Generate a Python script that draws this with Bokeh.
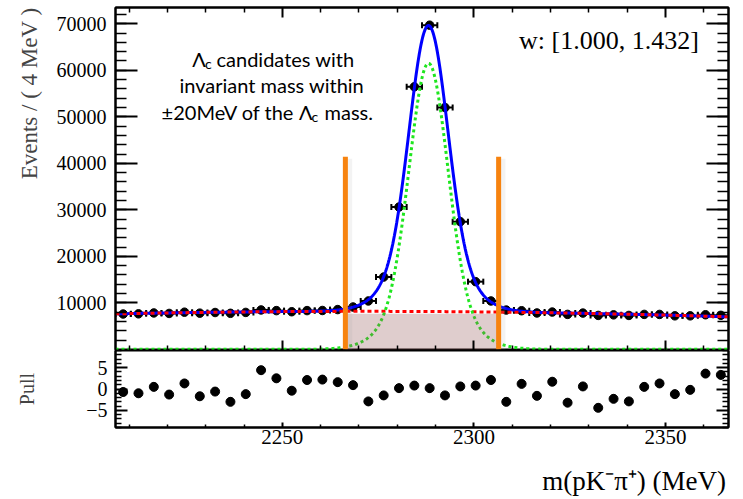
import numpy as np
from bokeh.plotting import figure
from bokeh.layouts import column
from bokeh.models import (Range1d, LinearAxis, FixedTicker, Title, Label,
                          ColumnDataSource, CustomJSTickFormatter)
from bokeh.embed import file_html
from bokeh.resources import INLINE

# ---------------- data ----------------
mass_bins = [2208.46, 2212.46, 2216.46, 2220.46, 2224.46, 2228.46, 2232.46, 2236.46,
             2240.46, 2244.46, 2248.46, 2252.46, 2256.46, 2260.46, 2264.46, 2268.46,
             2272.46, 2276.46, 2280.46, 2284.46, 2288.46, 2292.46, 2296.46, 2300.46,
             2304.46, 2308.46, 2312.46, 2316.46, 2320.46, 2324.46, 2328.46, 2332.46,
             2336.46, 2340.46, 2344.46, 2348.46, 2352.46, 2356.46, 2360.46, 2364.46]
events = [7596, 7633, 7824, 7720, 7990, 7781, 7920, 7744, 7938, 8471,
          8327, 8087, 8330, 8353, 8550, 9100, 10400, 15550, 30600, 56450,
          69700, 52000, 27450, 14550, 10400, 8450, 8300, 7820, 8015, 7516,
          7795, 7294, 7413, 7292, 7513, 7504, 7206, 7206, 7436, 7314]
pulls = [-0.7, -1.0, 0.5, -1.3, 1.3, -1.7, -0.6, -3.0, -1.2, 4.4,
         2.5, -0.4, 2.1, 2.2, 1.6, 0.9, -2.9, -1.5, 0.2, 0.8,
         0.2, -1.5, 0.6, 0.8, 2.1, -3.0, 1.2, -1.6, 1.7, -3.2,
         0.6, -4.4, -2.3, -2.9, 0.5, 1.3, -1.2, -0.2, 3.6, 3.3]
bin_half_width = 2.0

# fit model parameters
sig_mean = 2288.16
sig_core_sigma, sig_core_amp = 4.9, 50500.0
sig_tail_sigma, sig_tail_amp = 8.8, 11000.0
bkg_ref = 2286.0
bkg_c0, bkg_c1, bkg_c2 = 8140.0, -3.86, -0.13

window_edges = [2266.46, 2306.46]
window_bar_top = 41400
window_fill_top = 7650

main_y_ticks = [10000, 20000, 30000, 40000, 50000, 60000, 70000]
main_y_minor = [2000 * i for i in range(1, 37)]
x_ticks = [2250, 2300, 2350]
x_minor = [2210, 2220, 2230, 2240, 2260, 2270, 2280, 2290, 2310, 2320, 2330, 2340, 2360]
pull_ticks = [-5, 0, 5]
pull_minor = [-9, -8, -7, -6, -4, -3, -2, -1, 1, 2, 3, 4, 6, 7, 8, 9]

X0, X1 = 2206.46, 2366.46
Y0, Y1 = -250, 73500
P0, P1 = -9, 9
SERIF = "Liberation Serif"
SANS = "Lato"

# ---------------- fit curves ----------------
xs = np.linspace(X0, X1, 1601)
sig = (sig_core_amp * np.exp(-0.5 * ((xs - sig_mean) / sig_core_sigma) ** 2)
       + sig_tail_amp * np.exp(-0.5 * ((xs - sig_mean) / sig_tail_sigma) ** 2))
bkg = bkg_c0 + bkg_c1 * (xs - bkg_ref) + bkg_c2 * (xs - bkg_ref) ** 2
tot = sig + bkg

xm = np.array(mass_bins)
ev = np.array(events, dtype=float)
err = np.sqrt(ev)
src = ColumnDataSource(dict(x=xm, y=ev, xl=xm - bin_half_width, xr=xm + bin_half_width,
                            yl=ev - err, yh=ev + err))
psrc = ColumnDataSource(dict(x=xm, y=pulls, yl=np.array(pulls) - 1, yh=np.array(pulls) + 1))

empty_fmt = CustomJSTickFormatter(code="return ''")


def make_axis(ticks, minor, major_in, minor_in, labels=True, size="20px", standoff=8):
    ax = LinearAxis(ticker=FixedTicker(ticks=ticks, minor_ticks=minor),
                    axis_line_width=2, axis_line_color="black",
                    major_tick_in=major_in, major_tick_out=0,
                    minor_tick_in=minor_in, minor_tick_out=0,
                    major_tick_line_width=2, minor_tick_line_width=1.5,
                    major_tick_line_color="black", minor_tick_line_color="black",
                    major_label_text_color="black", major_label_standoff=standoff,
                    major_label_text_font=SERIF, major_label_text_font_size=size)
    if not labels:
        ax.formatter = empty_fmt
        ax.major_label_text_font_size = "0px"
        ax.major_label_standoff = 0
    return ax


xr = Range1d(X0, X1)

# ---------------- main panel ----------------
p = figure(width=743, height=350, x_range=xr, y_range=Range1d(Y0, Y1),
           output_backend="svg", toolbar_location=None,
           x_axis_location=None, y_axis_location=None,
           min_border_left=115, min_border_right=15, min_border_top=7, min_border_bottom=0)
p.grid.visible = False
p.outline_line_color = "black"
p.outline_line_width = 2
p.background_fill_color = "white"
p.border_fill_color = "white"

p.add_layout(make_axis(main_y_ticks, main_y_minor, 22, 11, labels=True, size="20px", standoff=9), "left")
p.add_layout(make_axis(main_y_ticks, main_y_minor, 22, 11, labels=False), "right")
p.add_layout(make_axis(x_ticks, x_minor, 10, 5, labels=False), "below")
p.add_layout(make_axis(x_ticks, x_minor, 10, 5, labels=False), "above")
p.add_layout(Title(text="Events / ( 4 MeV )", align="right", text_font=SERIF,
                   text_font_size="23px", text_font_style="normal", standoff=24), "left")

# data points
p.segment(x0="xl", y0="y", x1="xr", y1="y", source=src, line_color="black", line_width=2)
p.segment(x0="x", y0="yl", x1="x", y1="yh", source=src, line_color="black", line_width=2)
p.scatter(x="xl", y="y", source=src, marker="dash", angle=np.pi / 2, size=6,
          line_color="black", line_width=2)
p.scatter(x="xr", y="y", source=src, marker="dash", angle=np.pi / 2, size=6,
          line_color="black", line_width=2)
p.scatter(x="x", y="y", source=src, marker="circle", size=8.5, fill_color="black", line_color="black")

# fit curves
p.line(xs, tot, line_color="#0000ff", line_width=3)
p.line(xs, bkg, line_color="#ff0000", line_width=3, line_dash="4 3")
p.line(xs, sig, line_color="#1ee61e", line_width=3, line_dash="3 3")

# window shading and bars
p.quad(left=[window_edges[0]], right=[window_edges[1]], bottom=[Y0], top=[window_fill_top],
       fill_color="#965a5a", fill_alpha=0.3, line_color=None)
for xe in window_edges:
    p.segment(x0=[xe + 0.6], y0=[Y0], x1=[xe + 0.6], y1=[window_bar_top - 400],
              line_color="#999999", line_alpha=0.12, line_width=9)
    p.segment(x0=[xe], y0=[0], x1=[xe], y1=[window_bar_top],
              line_color="#f7830f", line_width=5)


def dx(px):
    return X0 + (px - 115) * (X1 - X0) / 613.0


def dy(py):
    return Y1 - (py - 7) * (Y1 - Y0) / 343.0


def lab(fig, x, y, text, size, font=SANS, align="left"):
    fig.add_layout(Label(x=x, y=y, text=text, text_font=font, text_font_size=size,
                         text_align=align, text_baseline="alphabetic", text_color="black"))


lab(p, dx(191.7), dy(58.3), "Λ", "20px")
lab(p, dx(204.5), dy(63.0), "c", "14px")
lab(p, dx(216.0), dy(58.3), "candidates with", "20px")
lab(p, dx(271.3), dy(84.5), "invariant mass within", "20px", align="center")
lab(p, dx(294.0), dy(111.5), "±20MeV of the", "20px", align="right")
lab(p, dx(298.5), dy(111.5), "Λ", "20px")
lab(p, dx(311.0), dy(116.0), "c", "14px")
lab(p, dx(324.0), dy(111.5), "mass.", "20px")
lab(p, dx(698.3), dy(40.0), "w: [1.000, 1.432]", "26px", font=SERIF, align="right")

# ---------------- pull panel ----------------
q = figure(width=743, height=113, x_range=xr, y_range=Range1d(P0, P1),
           output_backend="svg", toolbar_location=None,
           x_axis_location=None, y_axis_location=None,
           min_border_left=115, min_border_right=15, min_border_top=0, min_border_bottom=36)
q.grid.visible = False
q.outline_line_color = "black"
q.outline_line_width = 2

ly = make_axis(pull_ticks, pull_minor, 12, 6, labels=True, size="20px", standoff=8)
ly.axis_label = "Pull"
ly.axis_label_text_font = SERIF
ly.axis_label_text_font_size = "20px"
ly.axis_label_text_font_style = "normal"
ly.axis_label_standoff = 45
q.add_layout(ly, "left")
q.add_layout(make_axis(pull_ticks, pull_minor, 12, 6, labels=False), "right")
q.add_layout(make_axis(x_ticks, x_minor, 5, 3, labels=True, size="21px", standoff=2), "below")

q.segment(x0="x", y0="yl", x1="x", y1="yh", source=psrc, line_color="black", line_width=2)
q.scatter(x="x", y="y", source=psrc, marker="circle", size=9, fill_color="black", line_color="black")

# ---------------- x-axis title strip ----------------
t = figure(width=743, height=36, x_range=Range1d(0, 743), y_range=Range1d(0, 36),
           output_backend="svg", toolbar_location=None,
           x_axis_location=None, y_axis_location=None,
           min_border_left=0, min_border_right=0, min_border_top=0, min_border_bottom=0)
t.grid.visible = False
t.outline_line_color = None
t.add_layout(Label(x=740, y=19, text="m(pK⁻π⁺) (MeV)", text_font=SERIF, text_font_size="27px",
                   text_align="right", text_baseline="middle", text_color="black"))

layout = column(p, q, t, spacing=0)
open("out.html", "w").write(file_html(layout, INLINE))
